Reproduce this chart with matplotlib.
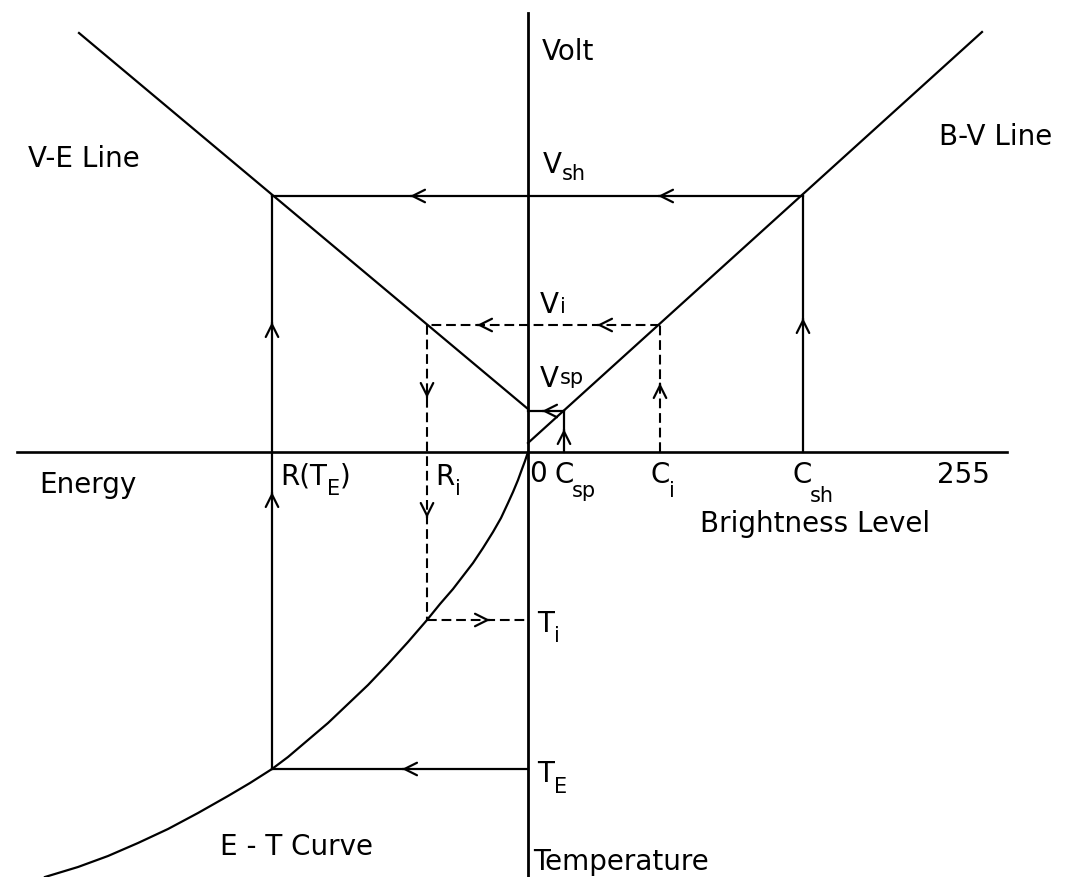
import matplotlib
matplotlib.use("Agg")
import matplotlib.pyplot as plt

plt.rcParams['font.family'] = ['DejaVu Sans']
plt.rcParams['lines.scale_dashes'] = False

# ---------------- data (diagram units; origin at axis crossing) ----------------
# axes extents
volt_axis_y = [439, -425]      # vertical axis: Volt (up) / Temperature (down)
level_axis_x = [-511, 479]     # horizontal axis: Energy (left) / Brightness (right)

# B-V line (brightness level -> volt)
bv_x = [0, 454]
bv_y = [9, 420]
# V-E line (volt -> energy, energy drawn to the left)
ve_x = [0, -449]
ve_y = [43, 419]
# E-T curve (energy -> temperature)
et_x = [0, -3, -6, -10, -15, -20, -27, -35, -45, -55, -65, -75, -88, -101,
        -120, -140, -160, -180, -200, -220, -240, -256,
        -278, -300, -330, -360, -390, -420, -450, -483]
et_y = [0, -9, -17, -28, -40, -51, -66, -80, -96, -111, -124, -137, -152, -168,
        -190, -212, -233, -252, -271, -288, -305, -317,
        -331, -344, -361, -377, -391, -404, -415, -425]

# operating points
c_sp, c_i, c_sh = 36, 132, 275
v_sp, v_i, v_sh = 41, 127, 256
r_i, r_te = -101, -256
t_i, t_e = -168, -317

# arrow tips: (x, y, direction)
solid_arrows = [(-118, v_sh, 'left'), (130, v_sh, 'left'),
                (14, v_sp, 'left'), (c_sp, 23, 'up'),
                (c_sh, 134, 'up'), (r_te, 130, 'up'), (r_te, -40, 'up'),
                (-126, t_e, 'left')]
dashed_arrows = [(-51, v_i, 'left'), (69, v_i, 'left'), (c_i, 69, 'up'),
                 (r_i, 54, 'down'), (r_i, -66, 'down'), (-38, t_i, 'right')]

# labels: (x, y_baseline, text, size, horizontal alignment)
labels = [
    (14, 392, "Volt", 20, 'left'),
    (-444, 285, "V-E Line", 20, 'center'),
    (468, 307, "B-V Line", 20, 'center'),
    (15, 279, "V", 20, 'left'), (34, 272, "sh", 15, 'left'),
    (12, 139, "V", 20, 'left'), (32, 139, "i", 15, 'left'),
    (12, 65, "V", 20, 'left'), (32, 68, "sp", 15, 'left'),
    (-440, -41, "Energy", 20, 'center'),
    (-248, -33, "R(T", 20, 'left'), (-201, -43, "E", 15, 'left'),
    (-188, -33, ")", 20, 'left'),
    (-93, -33, "R", 20, 'left'), (-73, -43, "i", 15, 'left'),
    (1, -30, "0", 20, 'left'),
    (27, -31, "C", 20, 'left'), (44, -45, "sp", 15, 'left'),
    (122, -31, "C", 20, 'left'), (141, -45, "i", 15, 'left'),
    (265, -31, "C", 20, 'left'), (282, -50, "sh", 15, 'left'),
    (409, -31, "255", 20, 'left'),
    (287, -80, "Brightness Level", 20, 'center'),
    (9, -180, "T", 20, 'left'), (26, -190, "i", 15, 'left'),
    (9, -330, "T", 20, 'left'), (26, -341, "E", 15, 'left'),
    (5, -418, "Temperature", 20, 'left'),
    (-232, -403, "E - T Curve", 20, 'center'),
]

# ---------------- drawing ----------------
fig = plt.figure(figsize=(10.74, 8.77), dpi=100)
ax = fig.add_axes([0, 0, 1, 1])
ax.set_xlim(-528, 546)
ax.set_ylim(-425, 452)
ax.axis('off')

LW = 1.6
K = 'black'
DASH = (7, 3.5)

# axes
ax.plot([0, 0], volt_axis_y, color=K, lw=2.0)
ax.plot(level_axis_x, [0, 0], color=K, lw=1.9)

# characteristic lines
ax.plot(bv_x, bv_y, color=K, lw=LW)
ax.plot(ve_x, ve_y, color=K, lw=LW)
ax.plot(et_x, et_y, color=K, lw=LW, solid_joinstyle='round')

# saturation (sh) loop - solid
ax.plot([c_sh, c_sh], [0, v_sh], color=K, lw=LW)
ax.plot([c_sh, r_te], [v_sh, v_sh], color=K, lw=LW)
ax.plot([r_te, r_te], [v_sh, t_e], color=K, lw=LW)
ax.plot([r_te, 0], [t_e, t_e], color=K, lw=LW)

# start point (sp) loop - solid
ax.plot([c_sp, c_sp], [0, v_sp], color=K, lw=LW)
ax.plot([c_sp, 0], [v_sp, v_sp], color=K, lw=LW)

# intermediate (i) loop - dashed
ax.plot([c_i, c_i], [0, v_i], color=K, lw=1.5, dashes=DASH)
ax.plot([c_i, r_i], [v_i, v_i], color=K, lw=1.5, dashes=DASH)
ax.plot([r_i, r_i], [v_i, t_i], color=K, lw=1.5, dashes=DASH)
ax.plot([r_i, 0], [t_i, t_i], color=K, lw=1.5, dashes=DASH)

vec = {'left': (1, 0), 'right': (-1, 0), 'up': (0, -1), 'down': (0, 1)}


def chevron(x, y, d):
    dx, dy = vec[d]
    ax.annotate('', xy=(x, y), xytext=(x + dx, y + dy),
                arrowprops=dict(arrowstyle='->,head_length=0.9,head_width=0.45',
                                lw=1.6, color=K, shrinkA=0, shrinkB=0,
                                mutation_scale=10))


for x, y, d in solid_arrows + dashed_arrows:
    chevron(x, y, d)

for x, y, s, fs, ha in labels:
    ax.text(x, y, s, fontsize=fs, ha=ha, va='baseline', color=K)

fig.savefig('out.png', dpi=100)
